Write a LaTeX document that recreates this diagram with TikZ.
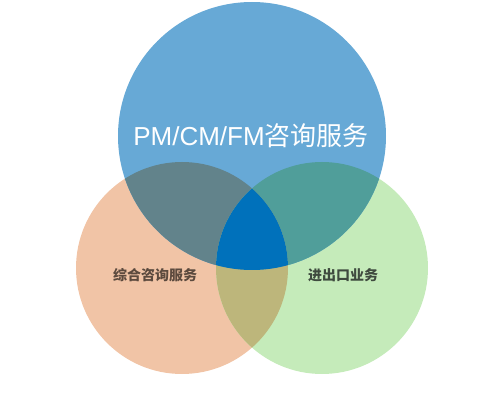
\documentclass[tikz,border=0pt]{standalone}
\usepackage{fontspec}
\setmainfont{Liberation Sans}
\newfontfamily\cjk{Noto Sans CJK SC}
\usetikzlibrary{positioning}
\definecolor{VennBlue}{HTML}{67A9D6}
\definecolor{VennOrange}{HTML}{F1C4A6}
\definecolor{VennGreen}{HTML}{C5EBBA}
\definecolor{VennBlueOrange}{HTML}{62838B}
\definecolor{VennBlueGreen}{HTML}{509E9A}
\definecolor{VennOrangeGreen}{HTML}{BDB67B}
\definecolor{VennCore}{HTML}{0071BB}
\definecolor{VennTextL}{HTML}{5C4A3E}
\definecolor{VennTextR}{HTML}{3F4B3F}
\tikzset{
venntitle/.style={text=white, font=\fontsize{26}{30}\selectfont, inner sep=0pt},
vennlabel/.style={font=\cjk\bfseries\fontsize{14}{16}\selectfont, inner sep=0pt}
}
\begin{document}
\begin{tikzpicture}[x=1pt, y=-1pt]
\useasboundingbox (0,0) rectangle (504,417);
\coordinate (pm) at (252,136);
\coordinate (zh) at (182,268);
\coordinate (jc) at (322,268);

% single circles
\fill[VennOrange] (zh) circle[radius=106pt];
\fill[VennGreen] (jc) circle[radius=106pt];
\fill[VennBlue] (pm) circle[radius=134pt];

% pairwise overlaps
\begin{scope}
\clip (pm) circle[radius=134pt];
\fill[VennBlueOrange] (zh) circle[radius=106pt];
\fill[VennBlueGreen] (jc) circle[radius=106pt];
\end{scope}
\begin{scope}
\clip (zh) circle[radius=106pt];
\fill[VennOrangeGreen] (jc) circle[radius=106pt];
\clip (jc) circle[radius=106pt];
\fill[VennCore] (pm) circle[radius=134pt];
\end{scope}

\node[venntitle] (pmtext) at (251,136) {PM/CM/FM{\cjk 咨询服务}};
\node[vennlabel, text=VennTextL] (zhtext) at (155,275) {综合咨询服务};
\node[vennlabel, text=VennTextR] (jctext) at (343,275) {进出口业务};
\end{tikzpicture}
\end{document}
